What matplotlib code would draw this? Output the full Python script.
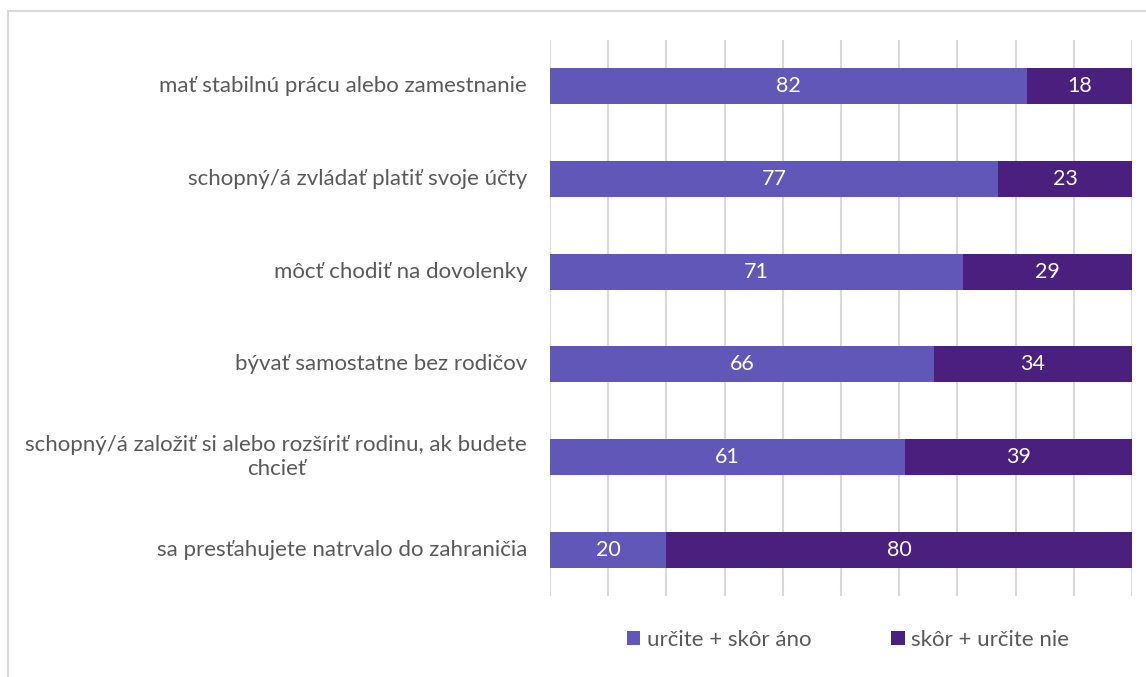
import matplotlib.pyplot as plt
from matplotlib.patches import Rectangle
from matplotlib.transforms import blended_transform_factory, offset_copy

categories = [
    "mať stabilnú prácu alebo zamestnanie",
    "schopný/á zvládať platiť svoje účty",
    "môcť chodiť na dovolenky",
    "bývať samostatne bez rodičov",
    "schopný/á založiť si alebo rozšíriť rodinu, ak budete\nchcieť",
    "sa presťahujete natrvalo do zahraničia",
]
yes_vals = [82, 77, 71, 66, 61, 20]
no_vals = [18, 23, 29, 34, 39, 80]
series_names = ["určite + skôr áno", "skôr + určite nie"]

c_yes = "#6157B9"
c_no = "#4B1F7D"
txt = "#595959"

plt.rcParams['font.family'] = ['Lato', 'DejaVu Sans']

fig = plt.figure(figsize=(11.46, 6.77), dpi=100)
ax = fig.add_axes([550 / 1146, 1 - 596 / 677, 582 / 1146, 556 / 677])

ypos = list(range(len(categories)))
b1 = ax.barh(ypos, yes_vals, height=0.39, color=c_yes, label=series_names[0], zorder=3)
b2 = ax.barh(ypos, no_vals, left=yes_vals, height=0.39, color=c_no, label=series_names[1], zorder=3)

for vals, lefts in [(yes_vals, [0] * len(yes_vals)), (no_vals, yes_vals)]:
    for y, v, l in zip(ypos, vals, lefts):
        ax.text(l + v / 2, y, str(v), ha='center', va='center', color='white',
                fontsize=15.5, zorder=4)

ax.set_xlim(0, 100)
ax.set_ylim(len(categories) - 0.5, -0.5)
ax.set_xticks(range(0, 101, 10))
ax.set_xticklabels([])
ax.tick_params(axis='x', length=0)
ax.set_yticks([])
ax.grid(axis='x', color='#D9D9D9', linewidth=1.5, zorder=0)
for s in ax.spines.values():
    s.set_visible(False)

# category labels, right aligned, multi-line centred
trans = offset_copy(blended_transform_factory(ax.transAxes, ax.transData),
                    fig=fig, x=-23, y=0, units='dots')
for y, lab in zip(ypos, categories):
    ax.text(0, y, lab, transform=trans, ha='right', va='center',
            multialignment='center', fontsize=16, color=txt, linespacing=1.3)

leg = fig.legend(handles=[b1, b2], labels=series_names, loc='center',
                 bbox_to_anchor=(848 / 1146, 1 - 640 / 677), ncol=2, frameon=False,
                 fontsize=16, handlelength=0.6, handleheight=0.6, handletextpad=0.3,
                 columnspacing=3.6)
for t in leg.get_texts():
    t.set_color(txt)

fig.patches.append(Rectangle((8 / 1146, -0.01), 1.1, 1 - 11 / 677 + 0.01,
                             transform=fig.transFigure, fill=False,
                             edgecolor='#D9D9D9', linewidth=1.5))

plt.savefig('out.png', dpi=100)
